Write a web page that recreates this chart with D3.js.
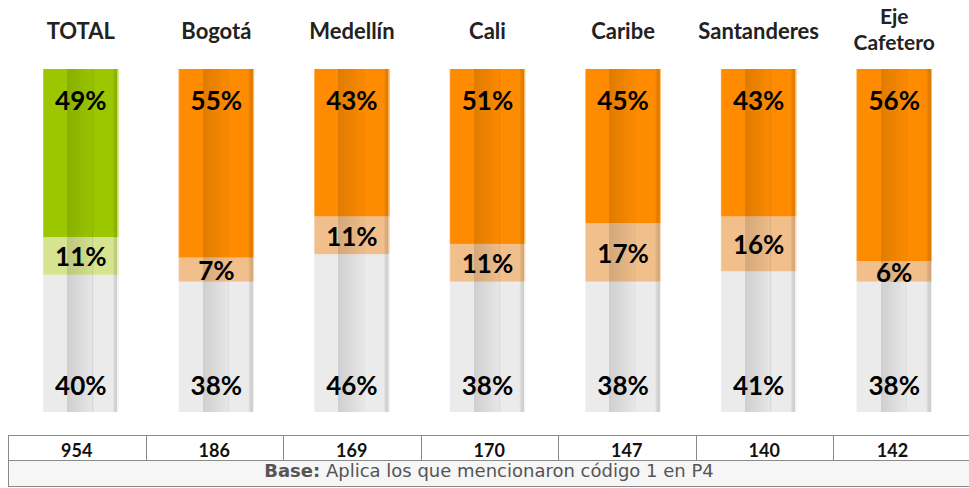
<!DOCTYPE html>
<html><head><meta charset="utf-8">
<script src="https://cdn.jsdelivr.net/npm/d3@7"></script>
<style>body{margin:0;background:#fff;} svg{display:block;font-family:"Lato","DejaVu Sans",sans-serif;}</style>
</head><body>
<svg id="c" width="969" height="488"></svg>
<script>
const categories = ["TOTAL","Bogotá","Medellín","Cali","Caribe","Santanderes","Eje Cafetero"];
const headerLines = [["TOTAL"],["Bogotá"],["Medellín"],["Cali"],["Caribe"],["Santanderes"],["Eje","Cafetero"]];
const topValues = [49,55,43,51,45,43,56];
const midValues = [11,7,11,11,17,16,6];
const bottomValues = [40,38,46,38,38,41,38];
const baseCounts = [954,186,169,170,147,140,142];
const baseNoteBold = "Base:";
const baseNote = " Aplica los que mencionaron código 1 en P4";

const svg = d3.select("#c");
const defs = svg.append("defs");
const g = defs.append("linearGradient").attr("id","shade").attr("x1","0").attr("x2","1").attr("y1","0").attr("y2","0");
[[0,"#fff",0.35],[0.015,"#fff",0.0],[0.32,"#000",0],[0.32,"#000",0.12],[0.655,"#000",0.02],[0.655,"#000",0.08],[0.675,"#000",0],[0.92,"#000",0.0],[0.95,"#000",0.1],[0.98,"#000",0.12],[0.985,"#fff",0.4],[1,"#fff",0.4]]
 .forEach(s=>g.append("stop").attr("offset",s[0]).attr("stop-color",s[1]).attr("stop-opacity",s[2]));

const x = d3.scaleBand().domain(categories).range([13,962]).paddingInner(0.443).paddingOuter(0.2215);
const y = d3.scaleLinear().domain([0,100]).range([412,69]);

const topColor = (i)=> i===0 ? "#9cc700" : "#ff8c00";
const midColor = (i)=> i===0 ? "#d6e38f" : "#f0bf8b";
const botColor = "#ebebeb";

const data = categories.map((c,i)=>({c,i,t:topValues[i],m:midValues[i],b:bottomValues[i]}));
const cols = svg.selectAll("g.col").data(data).join("g").attr("class","col");

cols.append("rect").attr("x",d=>x(d.c)).attr("width",x.bandwidth())
  .attr("y",d=>y(d.b)).attr("height",d=>y(0)-y(d.b)).attr("fill",botColor);
cols.append("rect").attr("x",d=>x(d.c)).attr("width",x.bandwidth())
  .attr("y",d=>y(d.b+d.m)).attr("height",d=>y(d.b)-y(d.b+d.m)).attr("fill",d=>midColor(d.i));
cols.append("rect").attr("x",d=>x(d.c)).attr("width",x.bandwidth())
  .attr("y",d=>y(d.b+d.m+d.t)).attr("height",d=>y(d.b+d.m)-y(d.b+d.m+d.t)).attr("fill",d=>topColor(d.i));
cols.append("rect").attr("x",d=>x(d.c)).attr("width",x.bandwidth())
  .attr("y",y(100)).attr("height",y(0)-y(100)).attr("fill","url(#shade)");

const lab = (sel)=>sel.attr("text-anchor","middle").attr("font-weight","bold").attr("font-size",26).attr("fill","#000");
cols.append("text").call(lab).attr("x",d=>x(d.c)+x.bandwidth()/2).attr("y",110).text(d=>d.t+"%");
cols.append("text").call(lab).attr("x",d=>x(d.c)+x.bandwidth()/2).attr("y",d=>(y(d.b)+y(d.b+d.m))/2+10.5).text(d=>d.m+"%");
cols.append("text").call(lab).attr("x",d=>x(d.c)+x.bandwidth()/2).attr("y",395).text(d=>d.b+"%");

// headers
cols.each(function(d){
  const lines = headerLines[d.i];
  const two = lines.length > 1;
  const t = d3.select(this).append("text").attr("text-anchor","middle").attr("font-weight","bold")
    .attr("font-size", two ? 21 : 22).attr("fill","#222");
  const y0 = two ? 24 : 38.5;
  lines.forEach((l,k)=>t.append("tspan").attr("x",x(d.c)+x.bandwidth()/2).attr("y",y0+k*26).text(l));
});

// table
const tx = d3.scaleBand().domain(categories).range([8,970.5]);
const tTop=435.5, tMid=460.5, tBot=486.5;
svg.append("rect").attr("x",8.5).attr("y",tMid).attr("width",962).attr("height",tBot-tMid).attr("fill","#f6f6f6");
svg.append("rect").attr("x",8.5).attr("y",tTop).attr("width",962).attr("height",tBot-tTop).attr("fill","none").attr("stroke","#8a8a8a").attr("stroke-width",1);
svg.append("line").attr("x1",8.5).attr("x2",970).attr("y1",tMid).attr("y2",tMid).attr("stroke","#8a8a8a");
svg.selectAll("line.sep").data(categories.slice(1)).join("line").attr("class","sep")
  .attr("x1",d=>Math.round(tx(d))+0.5).attr("x2",d=>Math.round(tx(d))+0.5).attr("y1",tTop).attr("y2",tMid).attr("stroke","#8a8a8a");
const lastRight = 952;
svg.selectAll("text.n").data(baseCounts).join("text").attr("class","n")
  .attr("x",(d,i)=> i < categories.length-1 ? tx(categories[i])+tx.bandwidth()/2 : (tx(categories[i])+lastRight)/2)
  .attr("y",456.5)
  .attr("text-anchor","middle").attr("font-weight","bold").attr("font-size",18).attr("fill","#111").text(d=>d);
const bt = svg.append("text").attr("x",489).attr("y",477).attr("text-anchor","middle")
  .attr("font-family","'DejaVu Sans',sans-serif").attr("font-size",18).attr("fill","#555");
bt.append("tspan").attr("font-weight","bold").text(baseNoteBold);
bt.append("tspan").text(baseNote);
</script>
</body></html>
